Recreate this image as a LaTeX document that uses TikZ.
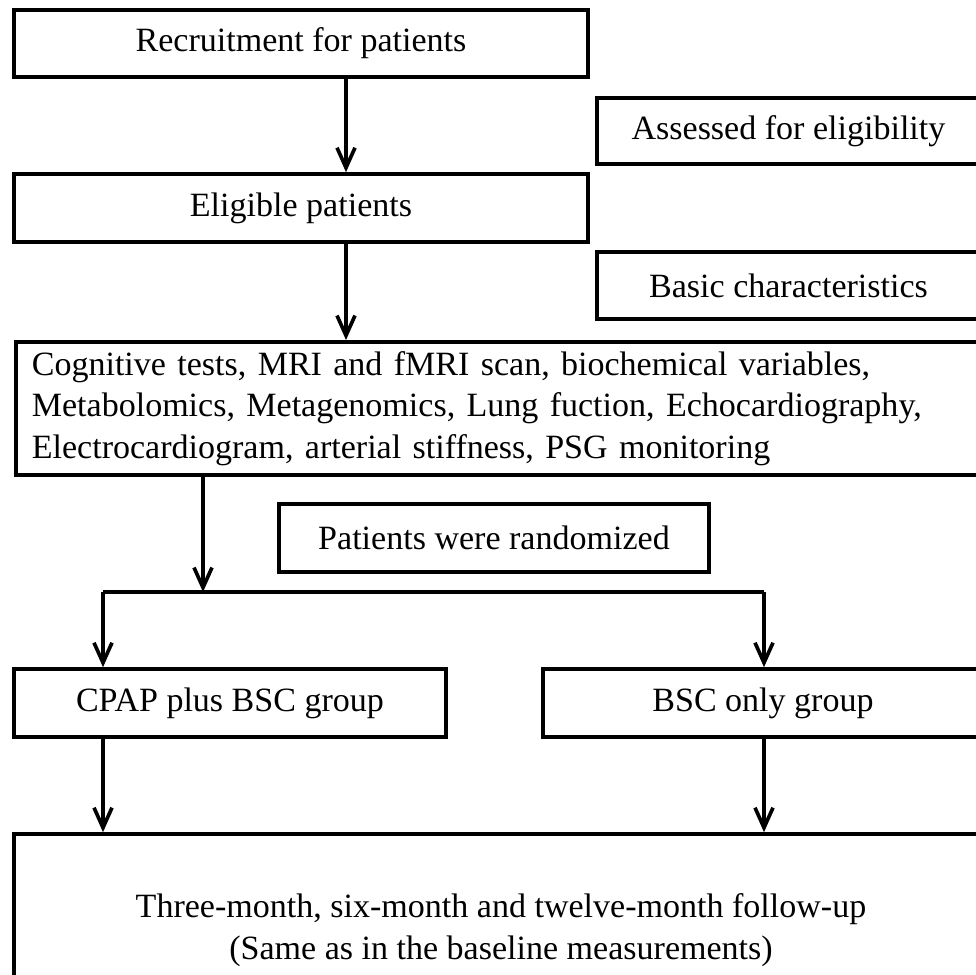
\documentclass[tikz,border=0pt]{standalone}
\usepackage{fontspec}
\setmainfont{Liberation Serif}
\usepackage{tikz}
\usetikzlibrary{calc, arrows.meta}

\tikzset{
  box/.style={draw, line width=2.6pt, inner sep=0pt, align=center,
    font=\fontsize{24.2}{29.5}\selectfont},
  arr/.style={line width=2.6pt, -{Straight Barb[length=0.5cm, width=0.45cm]}}
}

\begin{document}
\begin{tikzpicture}[x=0.025cm, y=-0.025cm]
          \useasboundingbox (0,0) rectangle (976,975);
          \clip (0,0) rectangle (976,975);
          \fill[white] (0,0) rectangle (976,975);
          % trunk positions of the connectors
          \coordinate (trunk) at (346,0);
          \coordinate (split) at (203,592);
          \coordinate (lft) at (103,592);
          \coordinate (rgt) at (764,592);

          \node[box, minimum width=14.35cm, minimum height=1.675cm]
            (recruit) at (301,43.5) {Recruitment for patients};
          \node[box, minimum width=9.575cm, minimum height=1.65cm]
            (assessed) at (788.5,131) {Assessed for eligibility};
          \node[box, minimum width=14.35cm, minimum height=1.7cm]
            (eligible) at (301,208) {Eligible patients};
          \node[box, minimum width=9.575cm, minimum height=1.675cm]
            (basic) at (788.5,285.5) {Basic characteristics};
          \node[box, anchor=north west, align=left, text width=23.35cm,
            inner xsep=0.4cm, minimum height=3.325cm]
            (measures) at (14,340)
            {Cognitive tests, MRI and fMRI scan, biochemical variables,\\
             Metabolomics, Metagenomics, Lung fuction, Echocardiography,\\
             Electrocardiogram, arterial stiffness, PSG monitoring};
          \node[box, minimum width=10.75cm, minimum height=1.7cm]
            (random) at (494,538) {Patients were randomized};
          \node[box, minimum width=10.8cm, minimum height=1.7cm]
            (cpap) at (230,703) {CPAP plus BSC group};
          \node[box, minimum width=11cm, minimum height=1.7cm]
            (bsc) at (763,703) {BSC only group};
          \node[box, minimum width=24.35cm, minimum height=4.8cm]
            (followup) at (501,930)
            {Three-month, six-month and twelve-month follow-up\\
             (Same as in the baseline measurements)};

          \draw[arr] (recruit.south -| trunk) -- (eligible.north -| trunk);
          \draw[arr] (eligible.south -| trunk) -- (measures.north -| trunk);
          \draw[arr] (measures.south -| split) -- (split);
          \draw[line width=2.6pt] (lft) -- (rgt);
          \draw[arr] (lft) -- (cpap.north -| lft);
          \draw[arr] (rgt) -- (bsc.north -| rgt);
          \draw[arr] (cpap.south -| lft) -- (followup.north -| lft);
          \draw[arr] (bsc.south -| rgt) -- (followup.north -| rgt);
        \end{tikzpicture}
\end{document}
